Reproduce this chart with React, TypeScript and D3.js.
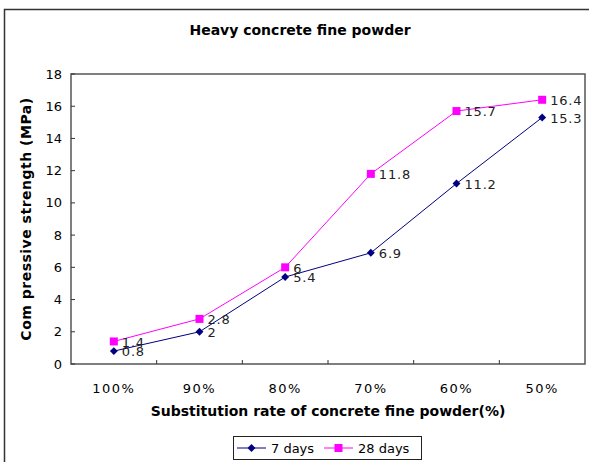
import React from "react";
import * as d3 from "d3";

const categories = ["100%", "90%", "80%", "70%", "60%", "50%"];
const days7 = [0.8, 2, 5.4, 6.9, 11.2, 15.3];
const days28 = [1.4, 2.8, 6, 11.8, 15.7, 16.4];
const yTicks = [0, 2, 4, 6, 8, 10, 12, 14, 16, 18];

const font = "'DejaVu Sans', sans-serif";

const App = () => {
  const width = 589;
  const height = 462;
  const margin = { top: 74, right: 4, bottom: 98, left: 71 };

  const x = d3
    .scaleBand()
    .domain(categories)
    .range([margin.left, width - margin.right]);

  const y = d3
    .scaleLinear()
    .domain([0, 18])
    .range([height - margin.bottom, margin.top]);

  const line = d3
    .line<number>()
    .x((d, i) => x(categories[i])! + x.bandwidth() / 2)
    .y((d) => y(d));

  const series = [
    { name: "7 days", values: days7, color: "#000080", marker: "diamond" },
    { name: "28 days", values: days28, color: "#ff00ff", marker: "square" },
  ];

  const marker = (s, cx, cy, key) =>
    s.marker === "diamond" ? (
      <rect
        key={key}
        x={-2.8}
        y={-2.8}
        width={5.6}
        height={5.6}
        transform={`translate(${cx},${cy}) rotate(45)`}
        fill={s.color}
      />
    ) : (
      <rect key={key} x={cx - 4} y={cy - 4} width={8} height={8} fill={s.color} />
    );

  const x0 = margin.left;
  const x1 = width - margin.right;
  const y0 = height - margin.bottom;
  const y1 = margin.top;

  return (
    <svg width={width} height={height} style={{ position: "absolute", left: 0, top: 0 }}>
      <rect width={width} height={height} fill="#fff" />
      {/* outer chart border */}
      <path d={`M4.5,${height} V9.5 H${width}`} fill="none" stroke="#333" strokeWidth={1.5} />

      <text x={300} y={35} textAnchor="middle" fontFamily={font} fontSize={14} fontWeight="bold">
        Heavy concrete fine powder
      </text>

      {/* plot area */}
      <rect x={x0} y={y1} width={x1 - x0} height={y0 - y1} fill="none" stroke="#555" strokeWidth={1.5} />

      {yTicks.map((t) => (
        <g key={t}>
          <line x1={x0} x2={x0 + 4} y1={y(t)} y2={y(t)} stroke="#333" />
          <text x={x0 - 9} y={y(t)} dy="0.35em" textAnchor="end" fontFamily={font} fontSize={13}>
            {t}
          </text>
        </g>
      ))}

      {categories.slice(1).map((c) => (
        <line key={c} x1={x(c)} x2={x(c)} y1={y0} y2={y0 - 4} stroke="#333" />
      ))}
      {categories.map((c) => (
        <text
          key={c}
          x={x(c)! + x.bandwidth() / 2}
          y={393}
          textAnchor="middle"
          fontFamily={font}
          fontSize={13}
          letterSpacing={1.5}
        >
          {c}
        </text>
      ))}

      <text x={328} y={416} textAnchor="middle" fontFamily={font} fontSize={14} fontWeight="bold">
        Substitution rate of concrete fine powder(%)
      </text>
      <text
        transform={`translate(31,${(y0 + y1) / 2}) rotate(-90)`}
        textAnchor="middle"
        fontFamily={font}
        fontSize={14}
        fontWeight="bold"
        letterSpacing={0.5}
      >
        Com pressive strength (MPa)
      </text>

      {series.map((s) => (
        <g key={s.name}>
          <path d={line(s.values)!} fill="none" stroke={s.color} strokeWidth={1} />
          {s.values.map((v, i) =>
            marker(s, x(categories[i])! + x.bandwidth() / 2, y(v), i)
          )}
          {s.values.map((v, i) => (
            <text
              key={"l" + i}
              x={x(categories[i])! + x.bandwidth() / 2 + 8}
              y={y(v)}
              dy="0.4em"
              fontFamily={font}
              fontSize={13}
              letterSpacing={0.8}
              fill="#222"
            >
              {v}
            </text>
          ))}
        </g>
      ))}

      {/* legend */}
      <rect x={233.5} y={436.5} width={188} height={23} fill="#fff" stroke="#222" strokeWidth={1} />
      <line x1={237} x2={266} y1={448} y2={448} stroke={series[0].color} />
      {marker(series[0], 251.5, 448, "lg0")}
      <text x={271} y={448} dy="0.35em" fontFamily={font} fontSize={13}>
        7 days
      </text>
      <line x1={324} x2={353} y1={448} y2={448} stroke={series[1].color} />
      {marker(series[1], 338.5, 448, "lg1")}
      <text x={358} y={448} dy="0.35em" fontFamily={font} fontSize={13}>
        28 days
      </text>
    </svg>
  );
};

export default App;
